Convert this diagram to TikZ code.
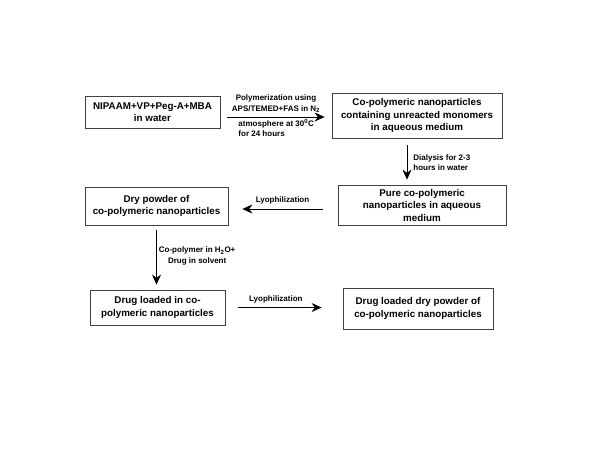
\documentclass[tikz,border=0pt]{standalone}
\usepackage{fontspec}
\setmainfont{Liberation Sans}
\usetikzlibrary{arrows.meta}

\begin{document}
\begin{tikzpicture}[x=1pt,y=-1pt,
  stage/.style={draw=black!75,line width=0.8pt,align=center,inner sep=0pt,
                font=\fontsize{9.8}{12.5}\selectfont\bfseries},
  cond/.style={font=\fontsize{8}{10.5}\selectfont\bfseries,inner sep=0pt},
  flow/.style={line width=0.8pt,-{Stealth[length=10pt,width=9pt]}}
]
\useasboundingbox (0,0) rectangle (600,450);
% stages of the preparation
\node[stage,minimum width=135pt,minimum height=32pt] (mix)    at (152.5,112)
   {NIPAAM+VP+Peg-A+MBA\\in water};
\node[stage,minimum width=170pt,minimum height=45pt] (crude)  at (417,115.5)
   {Co-polymeric nanoparticles\\containing unreacted monomers\\in aqueous medium};
\node[stage,minimum width=168pt,minimum height=40pt] (pure)   at (422,205)
   {Pure co-polymeric\\nanoparticles in aqueous\\medium};
\node[stage,minimum width=143pt,minimum height=38pt] (dry)    at (156.5,206)
   {Dry powder of\\co-polymeric nanoparticles};
\node[stage,minimum width=135pt,minimum height=35pt] (loaded) at (157.5,307.5)
   {Drug loaded in co-\\polymeric nanoparticles};
\node[stage,minimum width=150pt,minimum height=41pt] (final)  at (418,308.5)
   {Drug loaded dry powder of\\co-polymeric nanoparticles};
% process steps
\draw[flow] ([shift={(7,5)}]mix.east) -- ([shift={(-7,1.5)}]crude.west)
   node[cond,midway,above=4pt,align=center]
     {Polymerization using\\APS/TEMED+FAS in N\textsubscript{2}}
   node[cond,pos=0.11,anchor=north west,align=left,yshift=-2pt]
     {atmosphere at 30\textsuperscript{0}C\\for 24 hours};
\draw[flow] ([shift={(-10,7)}]crude.south) -- ([shift={(-15,-5)}]pure.north)
   node[cond,midway,anchor=west,xshift=6pt,align=left]
     {Dialysis for 2-3\\hours in water};
\draw[flow] ([shift={(-15,4)}]pure.west) -- ([shift={(14,3)}]dry.east)
   node[cond,midway,above=4pt] {Lyophilization};
\draw[flow] ([shift={(0,5)}]dry.south) -- ([shift={(-1,-5)}]loaded.north)
   node[cond,pos=0.47,anchor=west,xshift=2pt,align=center]
     {Co-polymer in H\textsubscript{2}O+\\Drug in solvent};
\draw[flow] ([shift={(13,0)}]loaded.east) -- ([shift={(-21,-1)}]final.west)
   node[cond,pos=0.45,above=4pt] {Lyophilization};
\end{tikzpicture}
\end{document}
